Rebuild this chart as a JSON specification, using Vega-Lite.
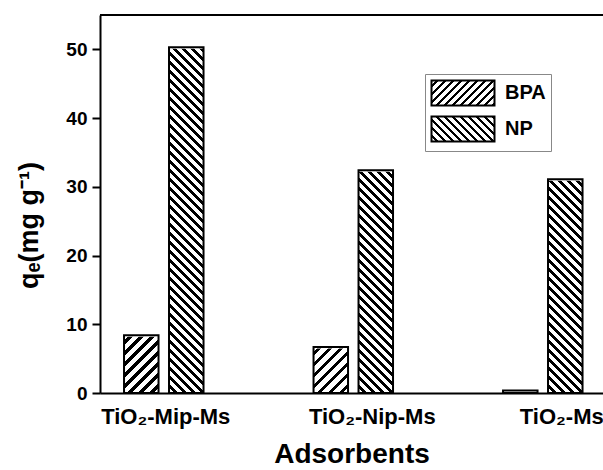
{
  "$schema": "https://vega.github.io/schema/vega-lite/v6.json",
  "width": 503,
  "height": 378,
  "autosize": {"type": "none"},
  "padding": {"left": 100, "top": 15, "right": 0, "bottom": 77},
  "background": "white",
  "config": {
    "view": {"stroke": null},
    "font": "Liberation Sans",
    "axis": {"zindex": 1}
  },
  "data": {
    "values": [
      {"adsorbent": "TiO₂-Mip-Ms", "series": "BPA", "value": 8.4},
      {"adsorbent": "TiO₂-Mip-Ms", "series": "NP", "value": 50.3},
      {"adsorbent": "TiO₂-Nip-Ms", "series": "BPA", "value": 6.7},
      {"adsorbent": "TiO₂-Nip-Ms", "series": "NP", "value": 32.4},
      {"adsorbent": "TiO₂-Ms", "series": "BPA", "value": 0.35},
      {"adsorbent": "TiO₂-Ms", "series": "NP", "value": 31.1}
    ]
  },
  "resolve": {"scale": {"fill": "independent"}, "legend": {"fill": "independent"}},
  "layer": [
    {
      "mark": {"type": "bar", "strokeWidth": 0},
      "encoding": {
        "x": {
          "field": "adsorbent", "type": "nominal", "sort": null,
          "scale": {"paddingInner": 0.5805, "paddingOuter": 0.1174, "align": 0.54},
          "axis": {
            "title": "Adsorbents",
            "titleFont": "Liberation Sans", "titleFontSize": 28, "titleFontWeight": "bold", "titleColor": "black",
            "titlePadding": 13,
            "labelFont": "Liberation Sans", "labelFontSize": 22, "labelFontWeight": "bold", "labelColor": "black",
            "labelAngle": 0, "labelPadding": 13,
            "labelOffset": {"condition": {"test": "indexof(datum.value, 'Mip') >= 0", "value": 2}, "value": 19},
            "ticks": false, "tickSize": 0,
            "domainColor": "black", "domainWidth": 2
          }
        },
        "xOffset": {"field": "series", "type": "nominal", "scale": {"paddingInner": 0.233, "paddingOuter": 0}},
        "y": {
          "datum": 55, "type": "quantitative",
          "scale": {"domain": [0, 55], "nice": false},
          "axis": {
            "title": "qₑ(mg g⁻¹)",
            "titleFont": "Liberation Sans", "titleFontSize": 27, "titleFontWeight": "bold", "titleColor": "black",
            "titleX": -63, "titleY": 210, "titleBaseline": "alphabetic", "titleAngle": -90, "titleAlign": "center",
            "values": [0, 5, 10, 15, 20, 25, 30, 35, 40, 45, 50],
            "labelExpr": "datum.value % 10 === 0 ? datum.label : ''",
            "labelFont": "Liberation Sans", "labelFontSize": 19, "labelFontWeight": "bold", "labelColor": "black",
            "labelPadding": 5,
            "tickColor": "black", "tickWidth": 2,
            "tickSize": {"condition": {"test": "datum.value % 10 === 0", "value": 8}, "value": 4},
            "domainColor": "black", "domainWidth": 2, "grid": false
          }
        },
        "y2": {"datum": 0},
        "fill": {
          "field": "series", "type": "nominal", "legend": null,
          "scale": {
            "domain": ["BPA", "NP"],
            "range": [
              {"expr": "{gradient:'linear',x1:0,y1:0,x2:0.1317,y2:1.443,stops:[{offset:0,color:'#fff'},{offset:0.572,color:'#fff'},{offset:0.572,color:'#000'},{offset:0.58,color:'#000'},{offset:0.58,color:'#fff'},{offset:0.592,color:'#fff'},{offset:0.592,color:'#000'},{offset:0.6,color:'#000'},{offset:0.6,color:'#fff'},{offset:0.612,color:'#fff'},{offset:0.612,color:'#000'},{offset:0.62,color:'#000'},{offset:0.62,color:'#fff'},{offset:0.632,color:'#fff'},{offset:0.632,color:'#000'},{offset:0.64,color:'#000'},{offset:0.64,color:'#fff'},{offset:0.652,color:'#fff'},{offset:0.652,color:'#000'},{offset:0.66,color:'#000'},{offset:0.66,color:'#fff'},{offset:0.672,color:'#fff'},{offset:0.672,color:'#000'},{offset:0.68,color:'#000'},{offset:0.68,color:'#fff'},{offset:0.692,color:'#fff'},{offset:0.692,color:'#000'},{offset:0.7,color:'#000'},{offset:0.7,color:'#fff'},{offset:0.712,color:'#fff'},{offset:0.712,color:'#000'},{offset:0.72,color:'#000'},{offset:0.72,color:'#fff'},{offset:0.732,color:'#fff'},{offset:0.732,color:'#000'},{offset:0.74,color:'#000'},{offset:0.74,color:'#fff'},{offset:0.752,color:'#fff'},{offset:0.752,color:'#000'},{offset:0.76,color:'#000'},{offset:0.76,color:'#fff'},{offset:1,color:'#fff'}]}"},
              {"expr": "{gradient:'linear',x1:0,y1:1,x2:0.10776,y2:-0.18066,stops:[{offset:0,color:'#fff'},{offset:0.012,color:'#fff'},{offset:0.012,color:'#000'},{offset:0.02,color:'#000'},{offset:0.02,color:'#fff'},{offset:0.032,color:'#fff'},{offset:0.032,color:'#000'},{offset:0.04,color:'#000'},{offset:0.04,color:'#fff'},{offset:0.052,color:'#fff'},{offset:0.052,color:'#000'},{offset:0.06,color:'#000'},{offset:0.06,color:'#fff'},{offset:0.072,color:'#fff'},{offset:0.072,color:'#000'},{offset:0.08,color:'#000'},{offset:0.08,color:'#fff'},{offset:0.092,color:'#fff'},{offset:0.092,color:'#000'},{offset:0.1,color:'#000'},{offset:0.1,color:'#fff'},{offset:0.112,color:'#fff'},{offset:0.112,color:'#000'},{offset:0.12,color:'#000'},{offset:0.12,color:'#fff'},{offset:0.132,color:'#fff'},{offset:0.132,color:'#000'},{offset:0.14,color:'#000'},{offset:0.14,color:'#fff'},{offset:0.152,color:'#fff'},{offset:0.152,color:'#000'},{offset:0.16,color:'#000'},{offset:0.16,color:'#fff'},{offset:0.172,color:'#fff'},{offset:0.172,color:'#000'},{offset:0.18,color:'#000'},{offset:0.18,color:'#fff'},{offset:0.192,color:'#fff'},{offset:0.192,color:'#000'},{offset:0.2,color:'#000'},{offset:0.2,color:'#fff'},{offset:0.212,color:'#fff'},{offset:0.212,color:'#000'},{offset:0.22,color:'#000'},{offset:0.22,color:'#fff'},{offset:0.232,color:'#fff'},{offset:0.232,color:'#000'},{offset:0.24,color:'#000'},{offset:0.24,color:'#fff'},{offset:0.252,color:'#fff'},{offset:0.252,color:'#000'},{offset:0.26,color:'#000'},{offset:0.26,color:'#fff'},{offset:0.272,color:'#fff'},{offset:0.272,color:'#000'},{offset:0.28,color:'#000'},{offset:0.28,color:'#fff'},{offset:0.292,color:'#fff'},{offset:0.292,color:'#000'},{offset:0.3,color:'#000'},{offset:0.3,color:'#fff'},{offset:0.312,color:'#fff'},{offset:0.312,color:'#000'},{offset:0.32,color:'#000'},{offset:0.32,color:'#fff'},{offset:0.332,color:'#fff'},{offset:0.332,color:'#000'},{offset:0.34,color:'#000'},{offset:0.34,color:'#fff'},{offset:0.352,color:'#fff'},{offset:0.352,color:'#000'},{offset:0.36,color:'#000'},{offset:0.36,color:'#fff'},{offset:0.372,color:'#fff'},{offset:0.372,color:'#000'},{offset:0.38,color:'#000'},{offset:0.38,color:'#fff'},{offset:0.392,color:'#fff'},{offset:0.392,color:'#000'},{offset:0.4,color:'#000'},{offset:0.4,color:'#fff'},{offset:0.412,color:'#fff'},{offset:0.412,color:'#000'},{offset:0.42,color:'#000'},{offset:0.42,color:'#fff'},{offset:0.432,color:'#fff'},{offset:0.432,color:'#000'},{offset:0.44,color:'#000'},{offset:0.44,color:'#fff'},{offset:0.452,color:'#fff'},{offset:0.452,color:'#000'},{offset:0.46,color:'#000'},{offset:0.46,color:'#fff'},{offset:0.472,color:'#fff'},{offset:0.472,color:'#000'},{offset:0.48,color:'#000'},{offset:0.48,color:'#fff'},{offset:0.492,color:'#fff'},{offset:0.492,color:'#000'},{offset:0.5,color:'#000'},{offset:0.5,color:'#fff'},{offset:0.512,color:'#fff'},{offset:0.512,color:'#000'},{offset:0.52,color:'#000'},{offset:0.52,color:'#fff'},{offset:0.532,color:'#fff'},{offset:0.532,color:'#000'},{offset:0.54,color:'#000'},{offset:0.54,color:'#fff'},{offset:0.552,color:'#fff'},{offset:0.552,color:'#000'},{offset:0.56,color:'#000'},{offset:0.56,color:'#fff'},{offset:0.572,color:'#fff'},{offset:0.572,color:'#000'},{offset:0.58,color:'#000'},{offset:0.58,color:'#fff'},{offset:0.592,color:'#fff'},{offset:0.592,color:'#000'},{offset:0.6,color:'#000'},{offset:0.6,color:'#fff'},{offset:0.612,color:'#fff'},{offset:0.612,color:'#000'},{offset:0.62,color:'#000'},{offset:0.62,color:'#fff'},{offset:0.632,color:'#fff'},{offset:0.632,color:'#000'},{offset:0.64,color:'#000'},{offset:0.64,color:'#fff'},{offset:0.652,color:'#fff'},{offset:0.652,color:'#000'},{offset:0.66,color:'#000'},{offset:0.66,color:'#fff'},{offset:0.672,color:'#fff'},{offset:0.672,color:'#000'},{offset:0.68,color:'#000'},{offset:0.68,color:'#fff'},{offset:0.692,color:'#fff'},{offset:0.692,color:'#000'},{offset:0.7,color:'#000'},{offset:0.7,color:'#fff'},{offset:0.712,color:'#fff'},{offset:0.712,color:'#000'},{offset:0.72,color:'#000'},{offset:0.72,color:'#fff'},{offset:0.732,color:'#fff'},{offset:0.732,color:'#000'},{offset:0.74,color:'#000'},{offset:0.74,color:'#fff'},{offset:0.752,color:'#fff'},{offset:0.752,color:'#000'},{offset:0.76,color:'#000'},{offset:0.76,color:'#fff'},{offset:0.772,color:'#fff'},{offset:0.772,color:'#000'},{offset:0.78,color:'#000'},{offset:0.78,color:'#fff'},{offset:0.792,color:'#fff'},{offset:0.792,color:'#000'},{offset:0.8,color:'#000'},{offset:0.8,color:'#fff'},{offset:0.812,color:'#fff'},{offset:0.812,color:'#000'},{offset:0.82,color:'#000'},{offset:0.82,color:'#fff'},{offset:0.832,color:'#fff'},{offset:0.832,color:'#000'},{offset:0.84,color:'#000'},{offset:0.84,color:'#fff'},{offset:0.852,color:'#fff'},{offset:0.852,color:'#000'},{offset:0.86,color:'#000'},{offset:0.86,color:'#fff'},{offset:1,color:'#fff'}]}"}
            ]
          }
        }
      }
    },
    {
      "mark": {"type": "bar", "fill": "white", "stroke": "white", "strokeWidth": 3},
      "encoding": {
        "x": {"field": "adsorbent", "type": "nominal", "sort": null},
        "xOffset": {"field": "series", "type": "nominal"},
        "y": {"field": "value", "type": "quantitative"},
        "y2": {"datum": 55}
      }
    },
    {
      "mark": {"type": "bar", "filled": false, "stroke": "black", "strokeWidth": 2},
      "encoding": {
        "x": {"field": "adsorbent", "type": "nominal", "sort": null},
        "xOffset": {"field": "series", "type": "nominal"},
        "y": {"field": "value", "type": "quantitative"}
      }
    },
    {
      "mark": {"type": "rule", "stroke": "black", "strokeWidth": 2},
      "encoding": {"y": {"datum": 55, "type": "quantitative"}}
    },
    {
      "transform": [{"filter": "datum.value < 0"}],
      "mark": {"type": "bar", "stroke": "black", "strokeWidth": 2},
      "encoding": {
        "x": {"field": "adsorbent", "type": "nominal", "sort": null},
        "xOffset": {"field": "series", "type": "nominal"},
        "y": {"field": "value", "type": "quantitative"},
        "fill": {
          "field": "series", "type": "nominal",
          "scale": {
            "domain": ["BPA", "NP"],
            "range": [
              {"expr": "{gradient:'linear',x1:0,y1:0,x2:1.3684,y2:0.5474,stops:[{offset:0,color:'#fff'},{offset:0.048,color:'#fff'},{offset:0.048,color:'#000'},{offset:0.08,color:'#000'},{offset:0.08,color:'#fff'},{offset:0.128,color:'#fff'},{offset:0.128,color:'#000'},{offset:0.16,color:'#000'},{offset:0.16,color:'#fff'},{offset:0.208,color:'#fff'},{offset:0.208,color:'#000'},{offset:0.24,color:'#000'},{offset:0.24,color:'#fff'},{offset:0.288,color:'#fff'},{offset:0.288,color:'#000'},{offset:0.32,color:'#000'},{offset:0.32,color:'#fff'},{offset:0.368,color:'#fff'},{offset:0.368,color:'#000'},{offset:0.4,color:'#000'},{offset:0.4,color:'#fff'},{offset:0.448,color:'#fff'},{offset:0.448,color:'#000'},{offset:0.48,color:'#000'},{offset:0.48,color:'#fff'},{offset:0.528,color:'#fff'},{offset:0.528,color:'#000'},{offset:0.56,color:'#000'},{offset:0.56,color:'#fff'},{offset:0.608,color:'#fff'},{offset:0.608,color:'#000'},{offset:0.64,color:'#000'},{offset:0.64,color:'#fff'},{offset:0.688,color:'#fff'},{offset:0.688,color:'#000'},{offset:0.72,color:'#000'},{offset:0.72,color:'#fff'},{offset:0.768,color:'#fff'},{offset:0.768,color:'#000'},{offset:0.8,color:'#000'},{offset:0.8,color:'#fff'},{offset:0.848,color:'#fff'},{offset:0.848,color:'#000'},{offset:0.88,color:'#000'},{offset:0.88,color:'#fff'},{offset:1,color:'#fff'}]}"},
              {"expr": "{gradient:'linear',x1:0,y1:1,x2:1.3684,y2:0.4526,stops:[{offset:0,color:'#fff'},{offset:0.048,color:'#fff'},{offset:0.048,color:'#000'},{offset:0.08,color:'#000'},{offset:0.08,color:'#fff'},{offset:0.128,color:'#fff'},{offset:0.128,color:'#000'},{offset:0.16,color:'#000'},{offset:0.16,color:'#fff'},{offset:0.208,color:'#fff'},{offset:0.208,color:'#000'},{offset:0.24,color:'#000'},{offset:0.24,color:'#fff'},{offset:0.288,color:'#fff'},{offset:0.288,color:'#000'},{offset:0.32,color:'#000'},{offset:0.32,color:'#fff'},{offset:0.368,color:'#fff'},{offset:0.368,color:'#000'},{offset:0.4,color:'#000'},{offset:0.4,color:'#fff'},{offset:0.448,color:'#fff'},{offset:0.448,color:'#000'},{offset:0.48,color:'#000'},{offset:0.48,color:'#fff'},{offset:0.528,color:'#fff'},{offset:0.528,color:'#000'},{offset:0.56,color:'#000'},{offset:0.56,color:'#fff'},{offset:0.608,color:'#fff'},{offset:0.608,color:'#000'},{offset:0.64,color:'#000'},{offset:0.64,color:'#fff'},{offset:0.688,color:'#fff'},{offset:0.688,color:'#000'},{offset:0.72,color:'#000'},{offset:0.72,color:'#fff'},{offset:0.768,color:'#fff'},{offset:0.768,color:'#000'},{offset:0.8,color:'#000'},{offset:0.8,color:'#fff'},{offset:0.848,color:'#fff'},{offset:0.848,color:'#000'},{offset:0.88,color:'#000'},{offset:0.88,color:'#fff'},{offset:1,color:'#fff'}]}"}
            ]
          },
          "legend": {
            "title": null,
            "orient": "none", "legendX": 325, "legendY": 59,
            "padding": 5, "strokeColor": "#888",
            "symbolType": "M-2.5,-1H2.5V1H-2.5Z", "symbolSize": 635,
            "symbolOffset": 19,
            "symbolStrokeColor": "black", "symbolStrokeWidth": 2,
            "labelFont": "Liberation Sans", "labelFontSize": 20, "labelFontWeight": "bold", "labelColor": "black",
            "labelOffset": 28, "rowPadding": 2
          }
        }
      }
    }
  ]
}
